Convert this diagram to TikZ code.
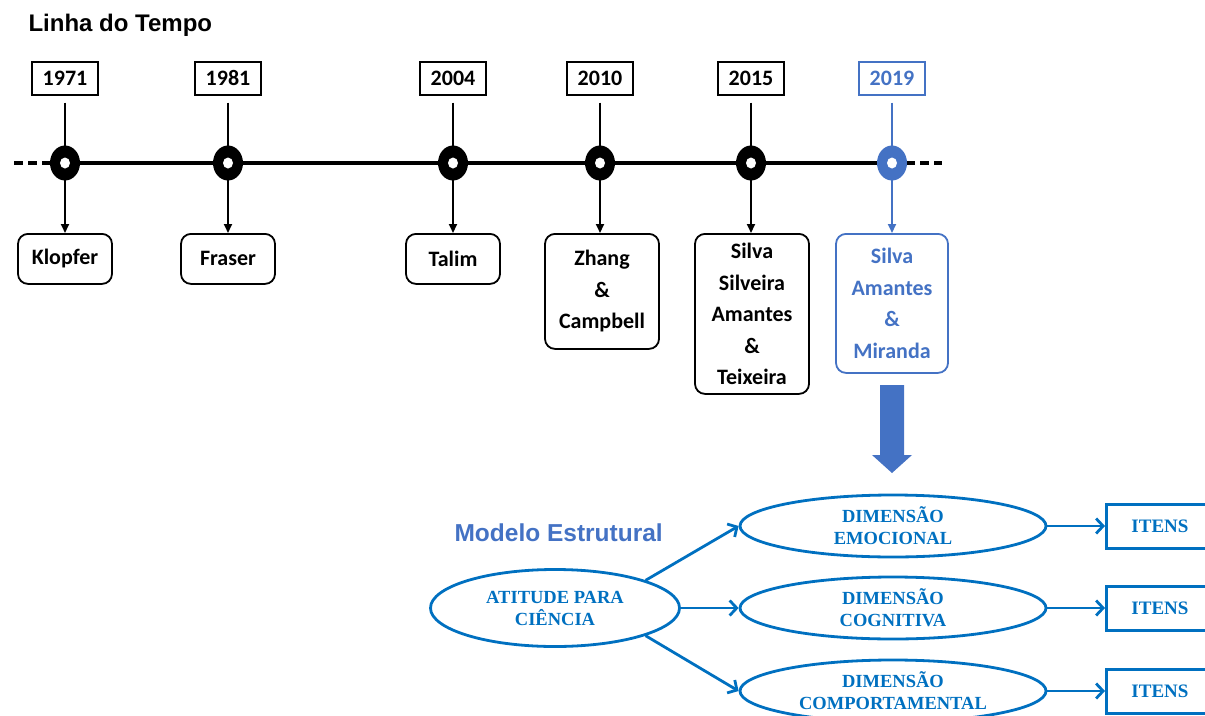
\documentclass[tikz,border=0pt]{standalone}
\usepackage{fontspec}
\setmainfont{Carlito}
\newfontfamily\arialfont{Liberation Sans}
\newfontfamily\timesfont{Liberation Serif}
\usepackage{tikz}
\usetikzlibrary{positioning}
\usetikzlibrary{shapes.geometric,arrows.meta}
\definecolor{lineblue}{HTML}{4472C4}
\definecolor{modelblue}{HTML}{0070C0}

\begin{document}
\begin{tikzpicture}[x=1pt,y=-1pt,
        yearbox/.style={draw,line width=2pt,minimum width=66pt,minimum height=33pt,inner sep=0pt,
            font=\fontsize{22}{24}\selectfont\bfseries},
        namebox/.style={draw,line width=1.8pt,rounded corners=10pt,align=center,anchor=north,inner sep=0pt,
            font=\fontsize{22}{31.5}\selectfont\bfseries},
        ring/.style={ellipse,fill=black,minimum width=30pt,minimum height=35pt,inner sep=0pt},
        hole/.style={ellipse,fill=white,minimum width=10pt,minimum height=11pt,inner sep=0pt},
        stem/.style={line width=2.6pt,shorten <=7pt},
        tip/.style={-{Triangle[length=9pt,width=8pt]},line width=2pt},
        dim/.style={ellipse,draw=modelblue,line width=2.8pt,inner sep=0pt,align=center,text=modelblue,
            font=\timesfont\fontsize{18.5}{22}\selectfont\bfseries},
        itens/.style={draw=modelblue,line width=3pt,minimum width=107pt,minimum height=44pt,inner sep=0pt,
            text=modelblue,font=\timesfont\fontsize{19}{22}\selectfont\bfseries},
        flow/.style={-{Straight Barb[length=7pt,width=15pt]},draw=modelblue,line width=2.8pt}]
        \clip (0,0) rectangle (1205,715);

        \node [anchor=base west,font=\arialfont\fontsize{24}{28}\selectfont\bfseries] (title) at (25,31) {Linha do Tempo};

        % years
        \node (y1971) [yearbox] at (65,78) {1971};
        \node (y1981) [yearbox] at (228,78) {1981};
        \node (y2004) [yearbox] at (453,78) {2004};
        \node (y2010) [yearbox] at (600,78) {2010};
        \node (y2015) [yearbox] at (751,78) {2015};
        \node (y2019) [yearbox,draw=lineblue,text=lineblue] at (892,78) {2019};

        % authors
        \node (n1971) [namebox,minimum width=94pt,minimum height=50pt] at (65,233) {Klopfer};
        \node (n1981) [namebox,minimum width=94pt,minimum height=50pt] at (228,233) {Fraser};
        \node (n2004) [namebox,minimum width=94pt,minimum height=50pt] at (453,233) {Talim};
        \node (n2010) [namebox,minimum width=114pt,minimum height=115pt] at (602,233) {Zhang\\ \&\\ Campbell};
        \node (n2015) [namebox,minimum width=114pt,minimum height=160pt] at (752,233)
            {Silva\\ Silveira\\ Amantes\\ \&\\ Teixeira};
        \node (n2019) [namebox,draw=lineblue,text=lineblue,minimum width=112pt,minimum height=139pt] at (892,233)
            {Silva\\ Amantes\\ \&\\ Miranda};

        \coordinate (k1971) at (65,163);
        \coordinate (k1981) at (228,163);
        \coordinate (k2004) at (453,163);
        \coordinate (k2010) at (600,163);
        \coordinate (k2015) at (751,163);
        \coordinate (k2019) at (892,163);
        \coordinate (lend) at (14,163);
        \coordinate (rend) at (942,163);

        % timeline
        \draw [line width=3.2pt] (k1971) -- (k2019);
        \draw [line width=3.2pt,dash pattern=on 9pt off 5pt] (lend) -- (k1971);
        \draw [line width=3.2pt,dash pattern=on 9pt off 5pt] (k2019) ++(14,0) -- (rend);
        \draw [stem] (y1971) -- (k1971);
        \draw [stem] (y1981) -- (k1981);
        \draw [stem] (y2004) -- (k2004);
        \draw [stem] (y2010) -- (k2010);
        \draw [stem] (y2015) -- (k2015);
        \draw [stem,lineblue] (y2019) -- (k2019);
        \draw [tip] (k1971) -- (n1971);
        \draw [tip] (k1981) -- (n1981);
        \draw [tip] (k2004) -- (n2004);
        \draw [tip] (k2010) -- (k2010 |- n2010.north);
        \draw [tip] (k2015) -- (k2015 |- n2015.north);
        \draw [tip,lineblue] (k2019) -- (n2019);

        \node (r1971) [ring] at (k1971) {}; \node [hole] at (k1971) {};
        \node (r1981) [ring] at (k1981) {}; \node [hole] at (k1981) {};
        \node (r2004) [ring] at (k2004) {}; \node [hole] at (k2004) {};
        \node (r2010) [ring] at (k2010) {}; \node [hole] at (k2010) {};
        \node (r2015) [ring] at (k2015) {}; \node [hole] at (k2015) {};
        \node (r2019) [ring,fill=lineblue] at (k2019) {}; \node [hole] at (k2019) {};

        % big arrow
        \fill [lineblue] (880,385) -- (904,385) -- (904,455) -- (912,455) -- (892,473)
            -- (872,455) -- (880,455) -- cycle;

        % model
        \node [anchor=base west,text=lineblue,font=\arialfont\fontsize{24.5}{28}\selectfont\bfseries] (model)
            at (451,541) {Modelo Estrutural};
        \node (atitude) [dim,minimum width=249pt,minimum height=77pt] at (555,608) {ATITUDE PARA\\ CIÊNCIA};
        \node (emoc) [dim,minimum width=306pt,minimum height=62pt] at (893,526) {DIMENSÃO\\ EMOCIONAL};
        \node (cogn) [dim,minimum width=306pt,minimum height=62pt] at (893,608) {DIMENSÃO\\ COGNITIVA};
        \node (comp) [dim,minimum width=306pt,minimum height=62pt] at (893,691) {DIMENSÃO\\ COMPORTAMENTAL};
        \node (it1) [itens] at (1160,526) {ITENS};
        \node (it2) [itens] at (1160,608) {ITENS};
        \node (it3) [itens] at (1160,691) {ITENS};

        \draw [flow] (atitude.17) -- (emoc.west);
        \draw [flow] (atitude.east) -- (cogn.west);
        \draw [flow] (atitude.-17) -- (comp.west);
        \draw [flow] (emoc.east) -- (it1.west);
        \draw [flow] (cogn.east) -- (it2.west);
        \draw [flow] (comp.east) -- (it3.west);
    \end{tikzpicture}
\end{document}
